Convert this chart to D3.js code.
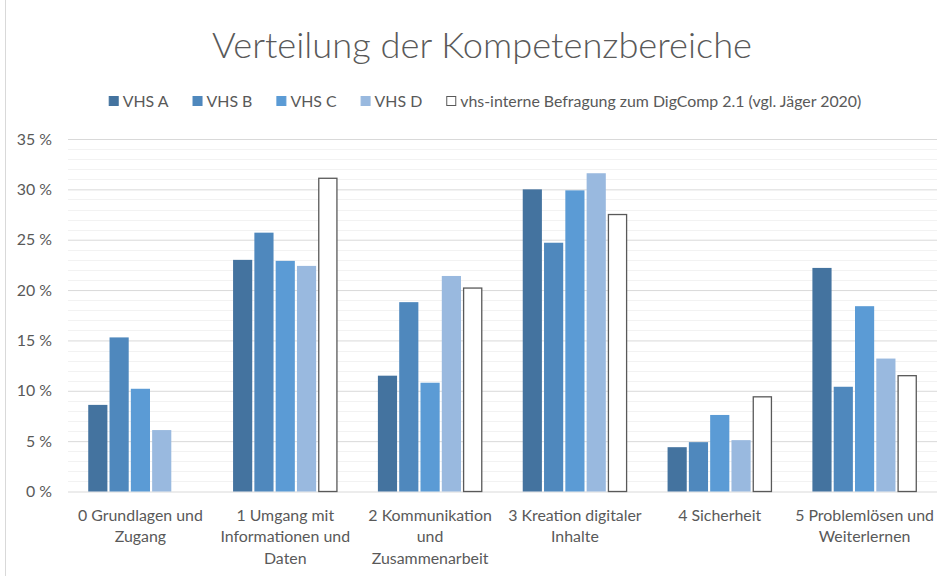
<!DOCTYPE html>
<html>
<head>
<meta charset="utf-8">
<script src="https://cdn.jsdelivr.net/npm/d3@7"></script>
<style>
  html, body { margin: 0; padding: 0; background: #fff; }
  svg { display: block; font-family: Lato, "Open Sans", sans-serif; }
</style>
</head>
<body>
<div id="chart"></div>
<script>
// --- DATA ---
const categories = [
    "0 Grundlagen und\nZugang",
    "1 Umgang mit\nInformationen und\nDaten",
    "2 Kommunikation\nund\nZusammenarbeit",
    "3 Kreation digitaler\nInhalte",
    "4 Sicherheit",
    "5 Problemlösen und\nWeiterlernen"
];
const seriesNames = ["VHS A", "VHS B", "VHS C", "VHS D", "vhs-interne Befragung zum DigComp 2.1 (vgl. Jäger 2020)"];
// values in %
const vhsA = [8.6, 23.0, 11.5, 30.0, 4.4, 22.2];
const vhsB = [15.3, 25.7, 18.8, 24.7, 4.9, 10.4];
const vhsC = [10.2, 22.9, 10.8, 29.9, 7.6, 18.4];
const vhsD = [6.1, 22.4, 21.4, 31.6, 5.1, 13.2];
const befragung = [null, 31.1, 20.2, 27.5, 9.4, 11.5];
const yTicks = [0, 5, 10, 15, 20, 25, 30, 35];

const seriesValues = [vhsA, vhsB, vhsC, vhsD, befragung];
const fills = ["#44739f", "#4f88bd", "#5b9bd5", "#99b9df", "#ffffff"];
const textColor = "#595959";

// --- SETUP ---
const width = 950, height = 576;
const margin = {top: 139, right: 13, bottom: 84, left: 68};

const svg = d3.select("#chart").append("svg")
    .attr("width", width)
    .attr("height", height);

// left frame line
svg.append("line")
    .attr("x1", 5.5).attr("x2", 5.5)
    .attr("y1", 0).attr("y2", height)
    .attr("stroke", "#d9d9d9");

// base font size so that Calibri-ish widths match
const probe = svg.append("text").style("font-size", "15px").text("0 Grundlagen und");
const baseSize = 15 * 125 / probe.node().getComputedTextLength();
probe.remove();

const x0 = d3.scaleBand()
    .domain(d3.range(categories.length))
    .range([margin.left, width - margin.right])
    .paddingInner(0.25)
    .paddingOuter(0.125);

const x1 = d3.scaleBand()
    .domain(d3.range(seriesNames.length))
    .range([0, x0.bandwidth()])
    .padding(0.1);

const y = d3.scaleLinear()
    .domain([0, 35])
    .range([height - margin.bottom - 0.5, margin.top]);

// --- GRID ---
svg.append("g")
    .selectAll("line")
    .data(d3.range(0, 36).filter(v => v % 5 !== 0))
    .enter().append("line")
    .attr("x1", margin.left).attr("x2", width - margin.right)
    .attr("y1", d => Math.round(y(d)) + 0.5)
    .attr("y2", d => Math.round(y(d)) + 0.5)
    .attr("stroke", "#f2f2f2");

const yAxis = svg.append("g")
    .attr("transform", `translate(${margin.left},0)`)
    .call(d3.axisLeft(y).tickValues(yTicks).tickSize(-(width - margin.right - margin.left)).tickFormat(d => d + " %"))
    .call(g => g.select(".domain").remove());

yAxis.selectAll(".tick line")
    .attr("stroke", "#d9d9d9");
yAxis.selectAll(".tick text")
    .attr("x", -16)
    .attr("fill", textColor)
    .style("font-family", "Lato, sans-serif")
    .style("font-size", baseSize + "px");

// --- BARS ---
const groups = svg.append("g")
    .selectAll("g")
    .data(categories.map((c, i) => i))
    .enter().append("g")
    .attr("transform", i => `translate(${x0(i)},0)`);

groups.selectAll("rect")
    .data(i => seriesValues.map((s, k) => ({k: k, v: s[i]})).filter(d => d.v !== null))
    .enter().append("rect")
    .attr("x", d => x1(d.k) + (d.k === 4 ? 0.5 : 0))
    .attr("y", d => y(d.v))
    .attr("width", d => x1.bandwidth() - (d.k === 4 ? 1 : 0))
    .attr("height", d => y(0) - y(d.v))
    .attr("fill", d => fills[d.k])
    .attr("stroke", d => d.k === 4 ? "#595959" : "none")
    .attr("stroke-width", 1.3);

// --- CATEGORY LABELS ---
const lineHeight = 21.5;
svg.append("g")
    .selectAll("text")
    .data(categories)
    .enter().append("text")
    .attr("text-anchor", "middle")
    .attr("fill", textColor)
    .style("font-size", baseSize + "px")
    .each(function(d, i) {
        const t = d3.select(this);
        d.split("\n").forEach((line, j) => {
            t.append("tspan")
                .attr("x", x0(i) + x0.bandwidth() / 2)
                .attr("y", 515 + j * lineHeight)
                .attr("dy", "0.35em")
                .text(line);
        });
    });

// --- TITLE ---
const title = svg.append("text")
    .attr("x", 482)
    .attr("y", 58)
    .attr("text-anchor", "middle")
    .attr("fill", textColor)
    .style("font-weight", 300)
    .style("font-size", "36px")
    .text("Verteilung der Kompetenzbereiche");
const tw = title.node().getComputedTextLength();
title.style("font-size", (36 * 540 / tw) + "px");

// --- LEGEND ---
const legend = svg.append("g");
const sq = 10, gapText = 4, gapItem = 24;
let lx = 0;
seriesNames.forEach((name, k) => {
    const g = legend.append("g");
    g.append("rect")
        .attr("x", lx + 0.5).attr("y", 96.5)
        .attr("width", sq - 1).attr("height", sq - 1)
        .attr("fill", fills[k])
        .attr("stroke", k === 4 ? "#595959" : fills[k]);
    const t = g.append("text")
        .attr("x", lx + sq + gapText)
        .attr("y", 101)
        .attr("dy", "0.35em")
        .attr("fill", textColor)
        .style("font-size", baseSize + "px")
        .text(name);
    lx += sq + gapText + t.node().getComputedTextLength() + gapItem;
});
const legendWidth = lx - gapItem;
legend.attr("transform", `translate(${(108 + 862) / 2 - legendWidth / 2},0)`);
</script>
</body>
</html>
